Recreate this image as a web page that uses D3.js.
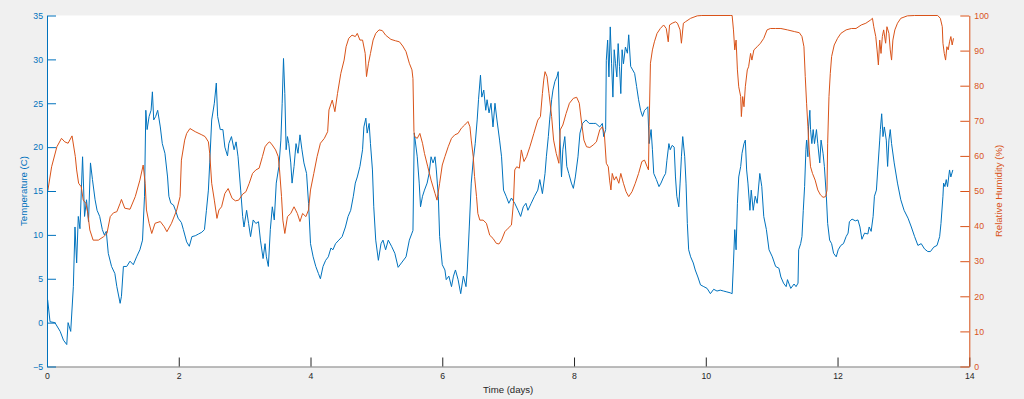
<!DOCTYPE html>
<html><head><meta charset="utf-8">
<script src="https://cdn.jsdelivr.net/npm/d3@7"></script>
<style>html,body{margin:0;padding:0;background:#f0f0f0;overflow:hidden}svg{display:block}</style>
</head><body><svg id="c" width="1024" height="399"></svg>
<script>
const tempDays=[0.01,0.046,0.12,0.2,0.25,0.30,0.32,0.36,0.40,0.425,0.45,0.475,0.50,0.54,0.57,0.60,0.63,0.66,0.69,0.73,0.76,0.80,0.84,0.87,0.90,0.93,0.98,1.03,1.06,1.11,1.13,1.16,1.21,1.26,1.31,1.36,1.41,1.45,1.48,1.50,1.52,1.55,1.58,1.60,1.62,1.65,1.68,1.72,1.75,1.79,1.83,1.85,1.88,1.92,1.95,1.99,2.04,2.07,2.12,2.16,2.20,2.25,2.30,2.35,2.39,2.42,2.45,2.47,2.50,2.54,2.57,2.59,2.63,2.67,2.70,2.74,
2.76,2.80,2.84,2.87,2.90,2.94,2.97,2.99,3.03,3.06,3.09,3.13,3.17,3.21,3.24,3.28,3.31,3.33,3.36,3.39,3.42,3.45,3.48,3.52,3.55,3.57,3.59,3.61,3.63,3.65,3.67,3.70,3.72,3.75,3.78,3.81,3.84,3.87,3.90,3.94,3.97,4.00,4.04,4.08,4.12,4.15,4.19,4.23,4.27,4.31,4.34,4.38,4.43,4.48,4.53,4.57,4.61,4.65,4.68,4.71,4.75,4.79,4.81,4.84,4.86,4.89,4.91,4.94,4.96,4.99,5.03,5.07,5.10,5.14,5.18,5.23,5.28,5.33,5.39,5.45,5.50,5.54,5.555,5.575,
5.62,5.65,5.67,5.70,5.73,5.77,5.80,5.83,5.86,5.89,5.91,5.94,5.96,6.00,6.04,6.06,6.10,6.14,6.17,6.20,6.24,6.28,6.32,6.36,6.38,6.41,6.44,6.47,6.50,6.53,6.55,6.58,6.60,6.63,6.66,6.68,6.71,6.74,6.77,6.80,6.83,6.87,6.90,6.93,6.97,7.01,7.05,7.10,7.15,7.19,7.23,7.27,7.30,7.35,7.40,7.45,7.48,7.52,7.56,7.58,7.61,7.63,7.66,7.68,7.71,7.74,7.76,7.78,7.81,7.83,7.86,7.89,7.92,7.96,7.99,8.02,8.06,8.09,8.13,8.18,8.23,8.29,8.33,
8.39,8.43,8.45,8.48,8.49,8.51,8.53,8.55,8.57,8.59,8.61,8.63,8.65,8.67,8.69,8.71,8.73,8.75,8.78,8.81,8.83,8.86,8.89,8.92,8.95,8.98,9.01,9.04,9.07,9.10,9.12,9.14,9.17,9.19,9.21,9.25,9.29,9.32,9.36,9.39,9.41,9.44,9.46,9.49,9.52,9.54,9.56,9.59,9.61,9.63,9.65,9.68,9.70,9.72,9.74,9.77,9.81,9.84,9.88,9.92,9.97,10.02,10.07,10.12,10.17,10.22,10.27,10.32,10.37,10.40,10.42,10.44,10.46,10.48,10.50,10.53,10.55,10.58,10.60,10.62,10.64,10.67,10.69,10.72,10.75,10.78,10.82,10.85,10.88,10.92,10.96,11.01,11.06,11.11,11.14,
11.18,11.22,11.24,11.27,11.29,11.34,11.37,11.40,11.41,11.44,11.46,11.48,11.50,11.52,11.53,11.55,11.56,11.58,11.59,11.61,11.63,11.65,11.68,11.70,11.73,11.75,11.78,11.80,11.83,11.85,11.88,11.91,11.94,11.98,12.01,12.05,12.09,12.13,12.16,12.18,12.22,12.27,12.31,12.34,12.37,12.41,12.46,12.48,12.51,12.54,12.56,12.59,12.61,12.64,12.65,12.67,12.69,12.71,12.74,12.76,12.78,12.80,12.82,12.86,12.91,12.96,13.01,13.07,13.12,13.17,13.22,13.27,13.32,13.37,13.41,13.46,13.51,13.55,13.57,13.60,13.61,13.63,13.65,13.67,13.70,13.72,13.75];
const tempValues=[2.6,0.1,0,-1,-2,-2.5,0,-1,4.1,10.9,6.8,12.1,10.7,18.9,12.1,14,11.5,18.2,16.3,14,12.8,12.1,10.6,10,10.4,7.9,6.4,5.6,4.1,2.2,3,6.4,6.4,7,6.6,7.5,8.3,9.4,14.4,24.2,22,23.5,24.2,26.3,23.1,23.5,24.2,22.3,20.4,19.3,16.6,14.4,13.6,13.4,12.8,11.9,11.4,10.6,9.2,8.7,9.8,9.9,10.1,10.3,10.6,12.8,15.1,18.2,23.1,25,27.3,23.5,22,22,20,19,
20.4,21.2,19.7,20.6,18.9,15.1,12.1,10.9,12.8,11.3,9.8,11.7,11.3,11.5,9.4,7.3,9,7.5,6.4,10.6,13.2,11.7,15.9,17.8,20.8,25,30.1,26.1,19.7,21.2,20.4,18.2,15.9,17.8,20.4,19.3,21.4,19.7,18.2,17,13.6,9,7.5,6.4,5.6,5,6.4,7.1,7.5,8.5,8.3,9,9.4,9.8,10.9,12.1,12.8,14.4,15.9,16.6,17.8,19.7,22.3,23.3,21.6,22.7,20.4,17.4,13.2,9.4,7.1,9,9.4,8.3,9.4,8.7,7.9,6.3,6.9,7.5,9.4,10.2,10.5,21.6,
18.9,15.9,13.2,14.4,15.1,15.9,17,18.9,18.2,18.9,17.4,14.4,9.8,6.6,6,4.9,5.3,4.1,5.3,6,4.9,3.3,5.3,4.1,6,10.9,15.9,18.5,20.4,23.1,25.4,28.2,25.7,26.5,24.2,25.4,23.9,25,22.3,25,23.1,20.8,18.9,15.1,14.4,13.6,14.2,13.6,12.8,12.1,13.2,13.6,12.8,13.6,14.4,15.1,16.3,14.7,17,18.9,21.2,23.1,25.4,26.5,27.5,28,28.6,22.3,16.6,19.7,21.2,17.8,17,15.9,15.3,16.6,18.9,21.6,22.7,23.1,22.7,22.7,22.7,
22.3,22.7,21.2,22,29.9,32.2,28,33.7,29.5,25.7,31.1,29.5,28,31.8,29.2,26.1,31.1,29.5,31.4,30.7,32.8,29.2,28.8,28.4,26.9,25.4,24.2,23.5,24.2,24.4,24.6,20.4,22,19.7,17,16.3,15.5,15.9,16.6,17,18.5,20.4,19.7,20.2,20,16.6,14.4,13.2,15.9,18.9,21.2,18.9,15.9,11.3,8.3,7.5,6.8,6,5.2,4.3,4.1,3.9,3.3,3.8,3.6,3.7,3.6,3.5,3.4,3.3,6.8,10.6,8.3,13.6,16.6,17.8,19.3,20.4,20.8,17.4,15.9,12.8,15.1,12.8,14.4,13.6,17,15.5,12.1,10.6,8.3,7.5,6.4,6.2,5.2,
4.5,4.1,4.9,4.3,3.9,4.4,4.1,4.5,8.3,9,9.8,12.8,15.5,19.7,20.8,18.9,22.3,24.2,22,20.4,22,20.4,22,20.4,18.2,20.8,19.3,17.8,14.4,11.3,9.4,9,7.9,7.5,8.3,8.8,9,9.8,10.2,11.5,11.8,11.6,11.7,10.9,9.5,10.2,10.1,10.9,10.4,12.1,14.4,15.1,17.4,20.8,22,23.8,21.2,22.3,20.8,17.8,20.8,22,20.4,18.2,15.9,14,12.8,11.9,10.9,9.8,8.8,9,8.4,8.1,8.1,8.6,8.8,9.8,11.3,14.4,15.9,15.5,16.3,15.5,17.4,16.6,17.4];

const rhDays=[0.01,0.07,0.15,0.22,0.27,0.32,0.38,0.43,0.45,0.48,0.52,0.55,0.59,0.62,0.65,0.70,0.78,0.86,0.91,0.96,1.01,1.06,1.11,1.13,1.18,1.26,1.34,1.41,1.46,1.49,1.51,1.55,1.59,1.64,1.72,1.78,1.82,1.89,1.97,2.02,2.04,2.09,2.12,2.17,2.25,2.35,2.40,2.45,2.47,2.50,2.54,2.58,2.61,2.65,2.70,2.75,
2.81,2.86,2.91,2.97,3.02,3.07,3.12,3.17,3.22,3.27,3.31,3.35,3.38,3.42,3.47,3.51,3.53,3.56,3.58,3.61,3.65,3.70,3.75,3.80,3.84,3.88,3.93,3.97,4.00,4.05,4.10,4.15,4.21,4.26,4.28,4.33,4.37,4.41,4.46,4.51,4.54,4.58,4.63,4.68,4.71,4.75,4.79,4.83,4.85,4.88,4.91,4.95,4.99,5.04,5.09,5.14,5.22,5.29,5.35,5.40,5.45,5.50,5.54,5.555,5.57,
5.58,5.62,5.66,5.70,5.73,5.78,5.83,5.89,5.92,5.96,6.00,6.04,6.09,6.14,6.19,6.24,6.29,6.34,6.39,6.42,6.44,6.47,6.49,6.52,6.54,6.57,6.62,6.67,6.72,6.77,6.82,6.86,6.90,6.95,7.00,7.05,7.08,7.10,7.13,7.17,7.20,7.24,7.28,7.33,7.39,7.45,7.49,7.52,7.54,7.56,7.59,7.62,7.66,7.69,7.73,7.77,7.79,7.83,7.88,7.93,7.99,8.04,8.08,8.11,8.15,8.19,8.24,8.29,8.34,
8.39,8.43,8.46,8.49,8.52,8.54,8.56,8.58,8.61,8.64,8.68,8.71,8.75,8.79,8.83,8.88,8.93,8.98,9.03,9.07,9.11,9.13,9.14,9.16,9.19,9.22,9.26,9.31,9.36,9.40,9.43,9.45,9.49,9.54,9.57,9.61,9.63,9.66,9.69,9.77,9.87,9.94,10.37,10.40,10.42,10.44,10.46,10.48,10.50,10.53,10.54,10.56,10.58,10.60,10.63,10.65,10.68,10.70,10.73,10.78,10.83,10.88,10.93,10.98,11.06,
11.14,11.24,11.35,11.42,11.46,11.49,11.51,11.53,11.55,11.57,11.59,11.62,11.66,11.70,11.74,11.78,11.82,11.84,11.85,11.87,11.89,11.91,11.95,12.00,12.05,12.13,12.21,12.28,12.36,12.43,12.50,12.53,12.55,12.58,12.60,12.62,12.64,12.66,12.68,12.70,12.73,12.75,12.78,12.80,12.82,12.84,12.87,12.91,12.96,13.06,13.17,13.52,13.56,13.59,13.60,13.62,13.64,13.66,13.68,13.70,13.72,13.74,13.76];
const rhValues=[49.8,56.9,62.6,65,64,63.6,65.7,59.8,56,52.2,51.2,47.4,46.5,43.6,38.9,36,36,37,37.9,42.7,43.8,44.1,46.5,47.6,45.1,44.8,48.4,53.1,57.4,52.2,44.6,40.8,37.9,40.8,41.3,39.8,38.4,40.8,44.6,48.4,58.8,64.5,66.4,67.8,66.9,66,65.5,64,60.7,52.2,47.4,42.2,44.6,45.5,49.3,50.7,
47.9,47.2,47.4,49.1,49.8,52.2,55,56,56.5,59.8,62.6,63.6,64,63.1,61.7,59.8,56,48.4,41.7,37.9,42.7,43.6,45.5,43.6,41.3,43.6,42.7,44.6,50.3,55,59.8,63.6,65,66.9,73.1,75.9,72.6,77.8,83.5,87.3,91.1,93.5,94.4,94,94.9,93,93,89.2,82.6,86.4,89.2,93,94.9,95.9,95.7,94.4,93.2,92.8,92.5,91.3,89.7,86.4,84.5,82,67,
65.5,65,66.4,63.6,60.7,56.9,53.1,49.3,47.4,52.2,57.4,59.8,62.6,65,66,66.4,67.9,68.8,69.8,68.3,64.5,59.8,54.1,48.4,43.6,41.7,41.7,40.8,37.4,36.5,35.1,34.9,36,38.4,39.4,40.3,46.5,56,56.9,56.5,61.7,58.4,59.8,62.6,66.4,70.2,71.2,77.8,81.6,84,82.6,77.8,71.2,64.5,60.7,57.9,67.4,68.8,72.1,75,76.4,76.7,75,70.2,64.5,62.6,62.4,63.1,64,
67.4,68.3,66.4,57.9,56.9,53.1,50.3,55,53.1,54.1,52.2,55,52.2,49.8,48.4,49.8,52.2,55,58.4,58.8,56.9,56,68.3,86.4,90.2,92.5,94.9,96.3,97.3,96.3,92.5,97.3,97.8,98.2,97.8,95.9,92.1,97.8,98.2,99.2,99.9,100,100,100,95.9,90.2,93,84.5,79.7,76.9,71.2,76.9,74,79.7,84.5,85.4,89.2,87.3,90.2,91.1,92.1,93.5,95.9,96.3,96.3,
96.3,95.9,95.4,95.1,94,91.1,82.6,75,68.3,61.7,56.9,55,53.1,50.3,48.9,48.2,48.4,50.3,63.6,76.9,83.5,88.3,91.6,93.5,94.9,95.9,96.3,96.3,97.3,97.8,98.7,99.2,96.8,94,90.2,85.9,93,89.2,94,95.9,92.1,96.8,94.9,90.2,87.3,93,95.9,97.8,99.2,99.9,100,100,99.2,96.8,92.1,89.2,87.3,91.1,90.2,92.5,94,91.6,93.5];

const xTicks=[0,2,4,6,8,10,12,14];
const tempTicks=[-5,0,5,10,15,20,25,30,35];
const rhTicks=[0,10,20,30,40,50,60,70,80,90,100];
const xLabel="Time (days)", leftLabel="Temperature (C)", rightLabel="Relative Humidity (%)";

const BLUE="#0072BD", ORANGE="#D95319", GRAY="#262626";
const FONT="'Liberation Sans', Arial, Helvetica, sans-serif";
const L=47, R=969.3, T=15.5, B=366.5;

const svg=d3.select("#c");
svg.append("rect").attr("width",1024).attr("height",399).attr("fill","#f0f0f0");
svg.append("rect").attr("x",L).attr("y",T).attr("width",R-L).attr("height",B-T).attr("fill","#fff");

const x=d3.scaleLinear().domain([0,14]).range([L,R]);
const yT=d3.scaleLinear().domain([-5,35]).range([B,T]);
const yR=d3.scaleLinear().domain([0,100]).range([B,T]);

const tempData=tempDays.map((d,i)=>[d,tempValues[i]]);
const rhData=rhDays.map((d,i)=>[d,rhValues[i]]);

svg.append("path").datum(tempData).attr("fill","none").attr("stroke",BLUE).attr("stroke-width",1).attr("stroke-linejoin","round")
  .attr("d",d3.line().x(d=>x(d[0])).y(d=>yT(d[1])));
svg.append("path").datum(rhData).attr("fill","none").attr("stroke",ORANGE).attr("stroke-width",1).attr("stroke-linejoin","round")
  .attr("d",d3.line().x(d=>x(d[0])).y(d=>yR(d[1])));

function style(g,color,size){
  g.select(".domain").attr("stroke",color).attr("stroke-width",1);
  g.selectAll(".tick line").attr("stroke",color).attr("stroke-width",1);
  g.selectAll(".tick text").attr("fill",color).attr("font-family",FONT).attr("font-size",size);
}
const gx=svg.append("g").attr("transform",`translate(0,${B})`)
  .call(d3.axisBottom(x).tickValues(xTicks).tickFormat(d3.format("d")).tickSizeInner(-9).tickSizeOuter(0).tickPadding(6.3));
style(gx,GRAY,"8.7px");
gx.select(".domain").attr("stroke","#808080");
const gl=svg.append("g").attr("transform",`translate(${L},0)`)
  .call(d3.axisLeft(yT).tickValues(tempTicks).tickFormat(d3.format("d")).tickSizeInner(-9).tickSizeOuter(0).tickPadding(4));
style(gl,BLUE,"8.7px");
const gr=svg.append("g").attr("transform",`translate(${R},0)`)
  .call(d3.axisRight(yR).tickValues(rhTicks).tickFormat(d3.format("d")).tickSizeInner(-9).tickSizeOuter(0).tickPadding(5));
style(gr,ORANGE,"8.7px");

svg.append("text").attr("x",(L+R)/2).attr("y",392.5).attr("text-anchor","middle").attr("font-family",FONT).attr("font-size","9.6px").attr("fill",GRAY).text(xLabel);
svg.append("text").attr("transform","translate(27,191) rotate(-90)").attr("text-anchor","middle").attr("font-family",FONT).attr("font-size","9.6px").attr("fill",BLUE).text(leftLabel);
svg.append("text").attr("transform","translate(1002,191) rotate(-90)").attr("text-anchor","middle").attr("font-family",FONT).attr("font-size","9.6px").attr("fill",ORANGE).text(rightLabel);
</script></body></html>
